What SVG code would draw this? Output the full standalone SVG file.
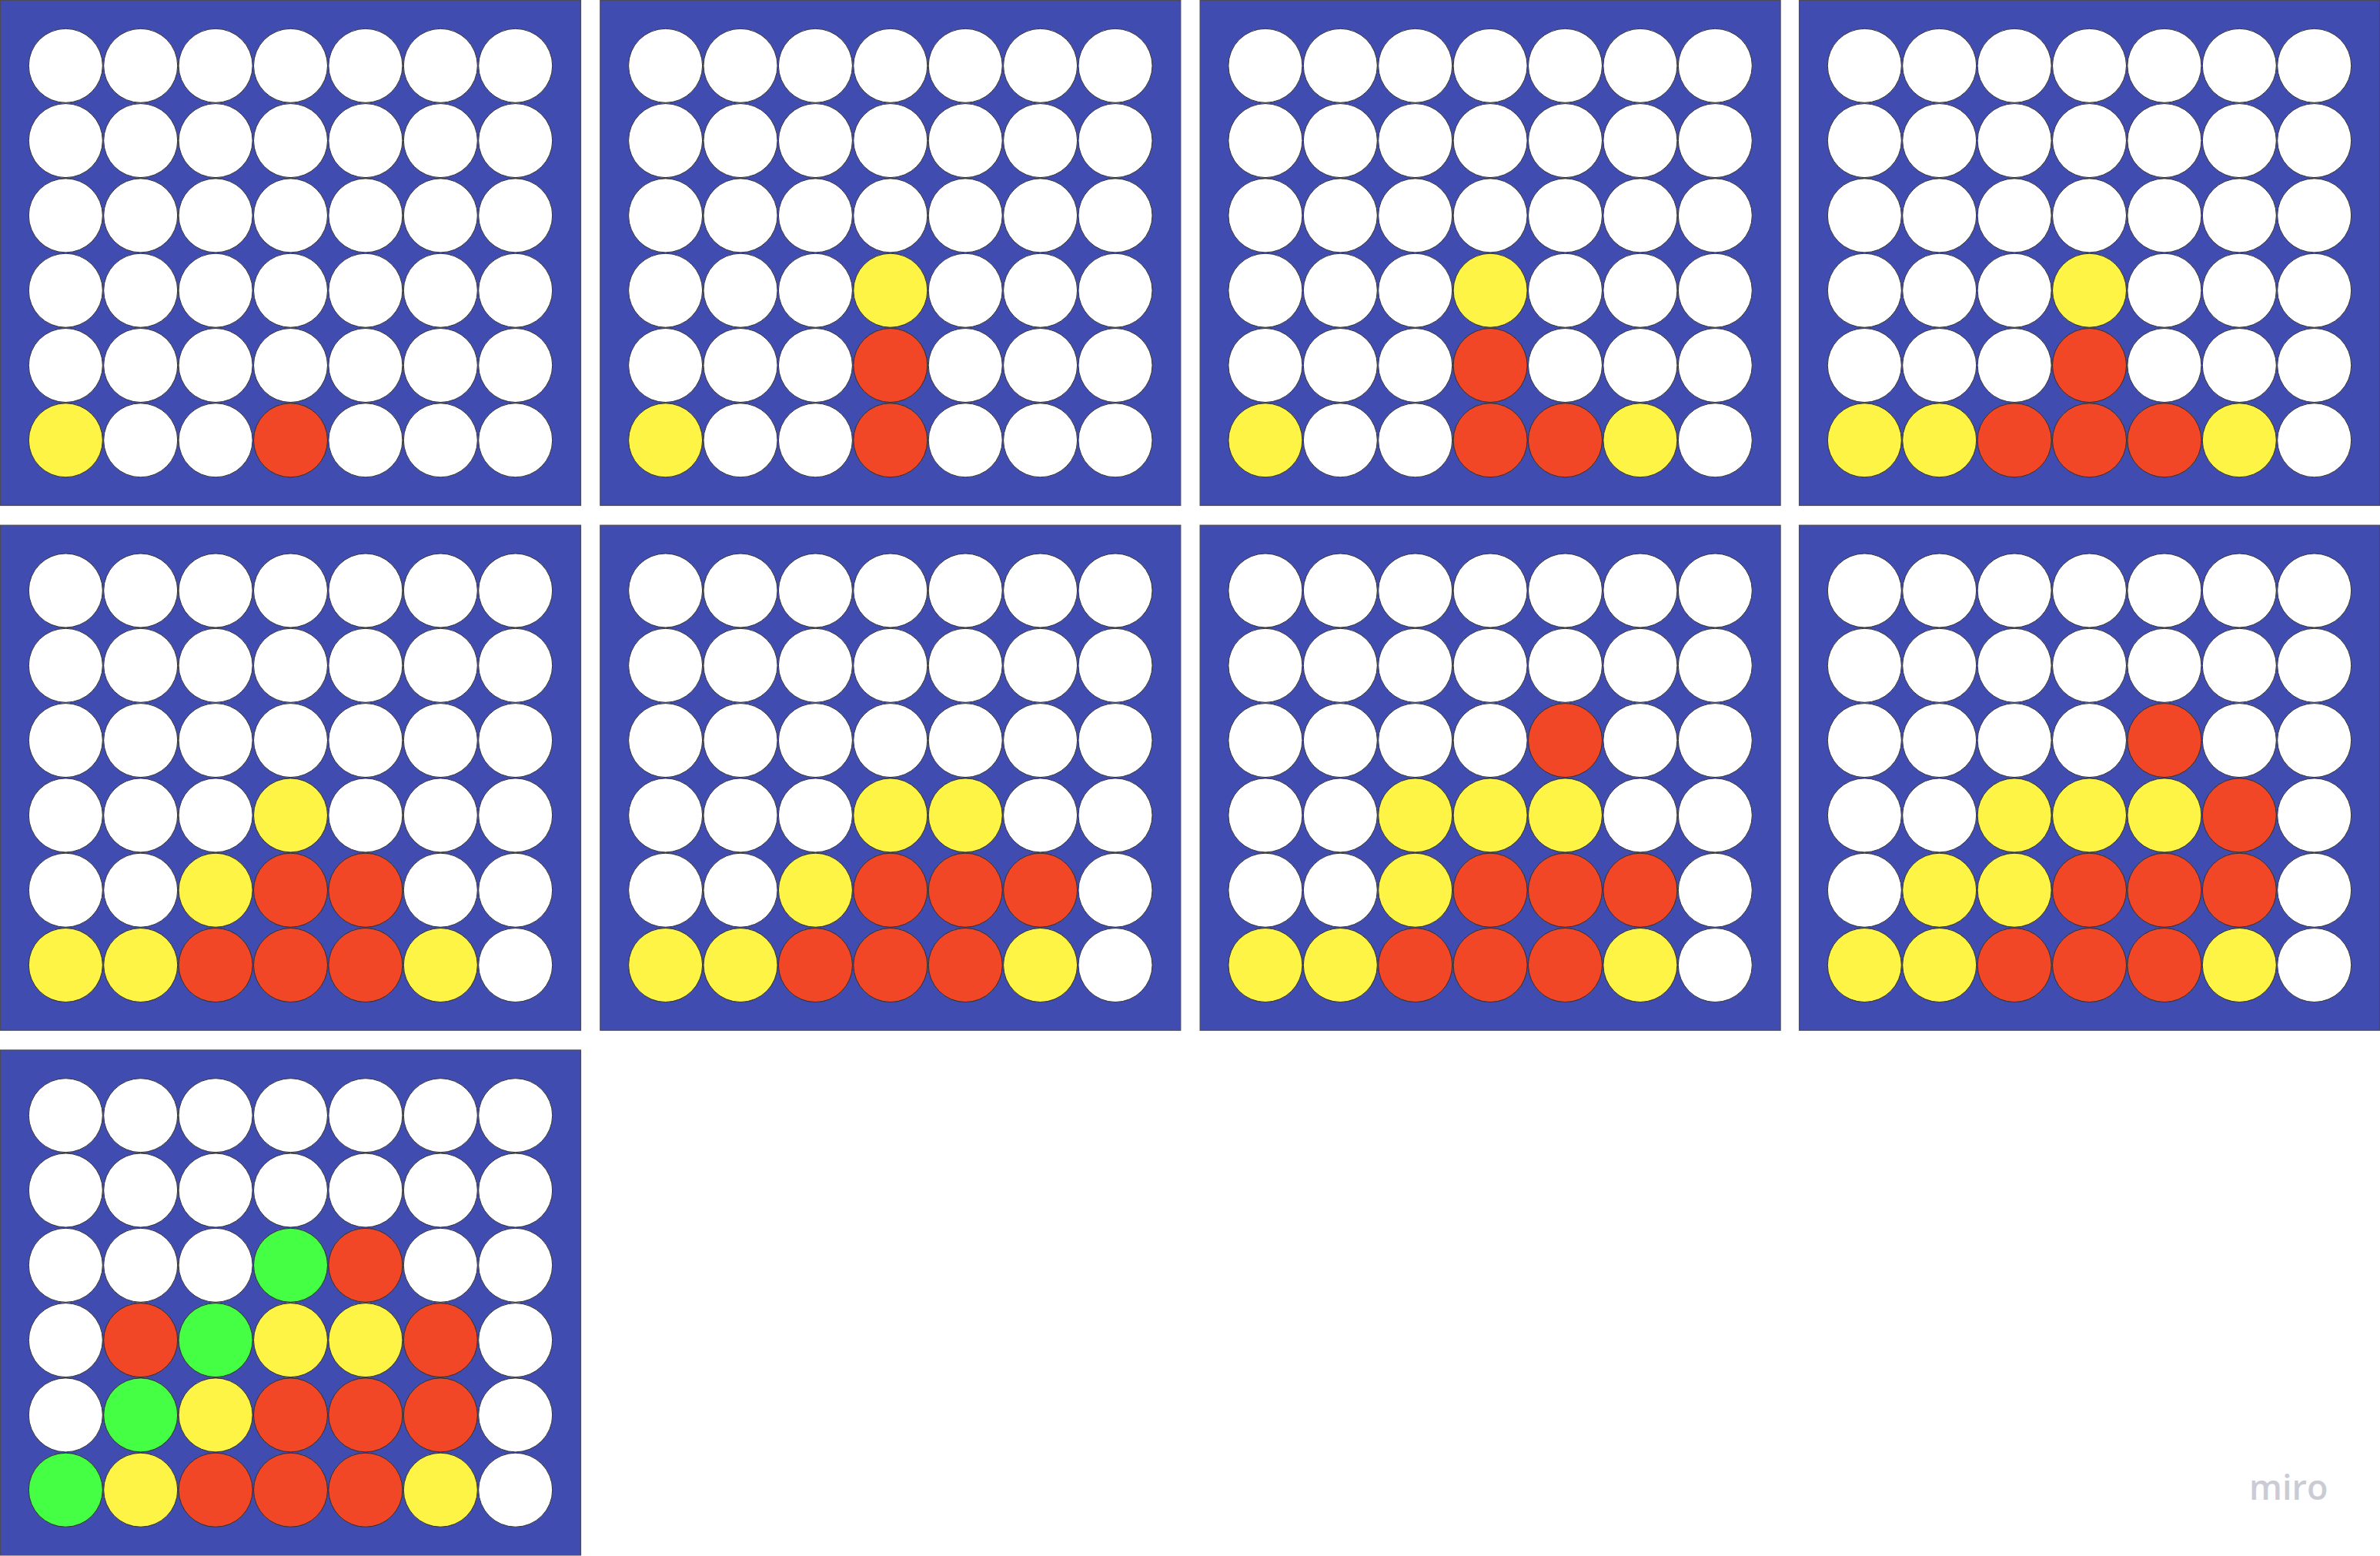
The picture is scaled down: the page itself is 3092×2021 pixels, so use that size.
<svg xmlns="http://www.w3.org/2000/svg" xmlns:xlink="http://www.w3.org/1999/xlink" width="3092" height="2021" viewBox="0 0 3092 2021">
<style>
.bd{fill:#404CB0;stroke:#4a4a5a;stroke-width:1.2}
circle{stroke:#333;stroke-width:1}
.w{fill:#ffffff}
.y{fill:#FEF445}
.r{fill:#F24726}
.g{fill:#44FF44}
.logo{font-family:"Open Sans","Noto Sans",sans-serif;font-weight:600;font-size:45px;fill:#CBCBD6}
</style>
<defs>
<g id="empty">
<rect class="bd" x="0.5" y="0.5" width="754" height="656"/>
<g class="w">
<circle cx="85.3" cy="85.3" r="48"/><circle cx="182.7" cy="85.3" r="48"/><circle cx="280.1" cy="85.3" r="48"/><circle cx="377.5" cy="85.3" r="48"/><circle cx="474.9" cy="85.3" r="48"/><circle cx="572.3" cy="85.3" r="48"/><circle cx="669.7" cy="85.3" r="48"/>
<circle cx="85.3" cy="182.6" r="48"/><circle cx="182.7" cy="182.6" r="48"/><circle cx="280.1" cy="182.6" r="48"/><circle cx="377.5" cy="182.6" r="48"/><circle cx="474.9" cy="182.6" r="48"/><circle cx="572.3" cy="182.6" r="48"/><circle cx="669.7" cy="182.6" r="48"/>
<circle cx="85.3" cy="279.9" r="48"/><circle cx="182.7" cy="279.9" r="48"/><circle cx="280.1" cy="279.9" r="48"/><circle cx="377.5" cy="279.9" r="48"/><circle cx="474.9" cy="279.9" r="48"/><circle cx="572.3" cy="279.9" r="48"/><circle cx="669.7" cy="279.9" r="48"/>
<circle cx="85.3" cy="377.2" r="48"/><circle cx="182.7" cy="377.2" r="48"/><circle cx="280.1" cy="377.2" r="48"/><circle cx="377.5" cy="377.2" r="48"/><circle cx="474.9" cy="377.2" r="48"/><circle cx="572.3" cy="377.2" r="48"/><circle cx="669.7" cy="377.2" r="48"/>
<circle cx="85.3" cy="474.5" r="48"/><circle cx="182.7" cy="474.5" r="48"/><circle cx="280.1" cy="474.5" r="48"/><circle cx="377.5" cy="474.5" r="48"/><circle cx="474.9" cy="474.5" r="48"/><circle cx="572.3" cy="474.5" r="48"/><circle cx="669.7" cy="474.5" r="48"/>
<circle cx="85.3" cy="571.8" r="48"/><circle cx="182.7" cy="571.8" r="48"/><circle cx="280.1" cy="571.8" r="48"/><circle cx="377.5" cy="571.8" r="48"/><circle cx="474.9" cy="571.8" r="48"/><circle cx="572.3" cy="571.8" r="48"/><circle cx="669.7" cy="571.8" r="48"/>
</g>
</g>
</defs>
<rect width="3092" height="2021" fill="#ffffff"/>
<g id="connectors"/>

<g id="board1" transform="translate(0,0)">
<use xlink:href="#empty" href="#empty"/>
<circle class="y" cx="85.3" cy="571.8" r="48"/>
<circle class="r" cx="377.5" cy="571.8" r="48"/>
</g>

<g id="board2" transform="translate(779.3,0)">
<use xlink:href="#empty" href="#empty"/>
<circle class="y" cx="377.5" cy="377.2" r="48"/>
<circle class="r" cx="377.5" cy="474.5" r="48"/>
<circle class="y" cx="85.3" cy="571.8" r="48"/>
<circle class="r" cx="377.5" cy="571.8" r="48"/>
</g>

<g id="board3" transform="translate(1558.6,0)">
<use xlink:href="#empty" href="#empty"/>
<circle class="y" cx="377.5" cy="377.2" r="48"/>
<circle class="r" cx="377.5" cy="474.5" r="48"/>
<circle class="y" cx="85.3" cy="571.8" r="48"/>
<circle class="r" cx="377.5" cy="571.8" r="48"/>
<circle class="r" cx="474.9" cy="571.8" r="48"/>
<circle class="y" cx="572.3" cy="571.8" r="48"/>
</g>

<g id="board4" transform="translate(2337,0)">
<use xlink:href="#empty" href="#empty"/>
<circle class="y" cx="377.5" cy="377.2" r="48"/>
<circle class="r" cx="377.5" cy="474.5" r="48"/>
<circle class="y" cx="85.3" cy="571.8" r="48"/>
<circle class="y" cx="182.7" cy="571.8" r="48"/>
<circle class="r" cx="280.1" cy="571.8" r="48"/>
<circle class="r" cx="377.5" cy="571.8" r="48"/>
<circle class="r" cx="474.9" cy="571.8" r="48"/>
<circle class="y" cx="572.3" cy="571.8" r="48"/>
</g>

<g id="board5" transform="translate(0,681.7)">
<use xlink:href="#empty" href="#empty"/>
<circle class="y" cx="377.5" cy="377.2" r="48"/>
<circle class="y" cx="280.1" cy="474.5" r="48"/>
<circle class="r" cx="377.5" cy="474.5" r="48"/>
<circle class="r" cx="474.9" cy="474.5" r="48"/>
<circle class="y" cx="85.3" cy="571.8" r="48"/>
<circle class="y" cx="182.7" cy="571.8" r="48"/>
<circle class="r" cx="280.1" cy="571.8" r="48"/>
<circle class="r" cx="377.5" cy="571.8" r="48"/>
<circle class="r" cx="474.9" cy="571.8" r="48"/>
<circle class="y" cx="572.3" cy="571.8" r="48"/>
</g>

<g id="board6" transform="translate(779.3,681.7)">
<use xlink:href="#empty" href="#empty"/>
<circle class="y" cx="377.5" cy="377.2" r="48"/>
<circle class="y" cx="474.9" cy="377.2" r="48"/>
<circle class="y" cx="280.1" cy="474.5" r="48"/>
<circle class="r" cx="377.5" cy="474.5" r="48"/>
<circle class="r" cx="474.9" cy="474.5" r="48"/>
<circle class="r" cx="572.3" cy="474.5" r="48"/>
<circle class="y" cx="85.3" cy="571.8" r="48"/>
<circle class="y" cx="182.7" cy="571.8" r="48"/>
<circle class="r" cx="280.1" cy="571.8" r="48"/>
<circle class="r" cx="377.5" cy="571.8" r="48"/>
<circle class="r" cx="474.9" cy="571.8" r="48"/>
<circle class="y" cx="572.3" cy="571.8" r="48"/>
</g>

<g id="board7" transform="translate(1558.6,681.7)">
<use xlink:href="#empty" href="#empty"/>
<circle class="r" cx="474.9" cy="279.9" r="48"/>
<circle class="y" cx="280.1" cy="377.2" r="48"/>
<circle class="y" cx="377.5" cy="377.2" r="48"/>
<circle class="y" cx="474.9" cy="377.2" r="48"/>
<circle class="y" cx="280.1" cy="474.5" r="48"/>
<circle class="r" cx="377.5" cy="474.5" r="48"/>
<circle class="r" cx="474.9" cy="474.5" r="48"/>
<circle class="r" cx="572.3" cy="474.5" r="48"/>
<circle class="y" cx="85.3" cy="571.8" r="48"/>
<circle class="y" cx="182.7" cy="571.8" r="48"/>
<circle class="r" cx="280.1" cy="571.8" r="48"/>
<circle class="r" cx="377.5" cy="571.8" r="48"/>
<circle class="r" cx="474.9" cy="571.8" r="48"/>
<circle class="y" cx="572.3" cy="571.8" r="48"/>
</g>

<g id="board8" transform="translate(2337,681.7)">
<use xlink:href="#empty" href="#empty"/>
<circle class="r" cx="474.9" cy="279.9" r="48"/>
<circle class="y" cx="280.1" cy="377.2" r="48"/>
<circle class="y" cx="377.5" cy="377.2" r="48"/>
<circle class="y" cx="474.9" cy="377.2" r="48"/>
<circle class="r" cx="572.3" cy="377.2" r="48"/>
<circle class="y" cx="182.7" cy="474.5" r="48"/>
<circle class="y" cx="280.1" cy="474.5" r="48"/>
<circle class="r" cx="377.5" cy="474.5" r="48"/>
<circle class="r" cx="474.9" cy="474.5" r="48"/>
<circle class="r" cx="572.3" cy="474.5" r="48"/>
<circle class="y" cx="85.3" cy="571.8" r="48"/>
<circle class="y" cx="182.7" cy="571.8" r="48"/>
<circle class="r" cx="280.1" cy="571.8" r="48"/>
<circle class="r" cx="377.5" cy="571.8" r="48"/>
<circle class="r" cx="474.9" cy="571.8" r="48"/>
<circle class="y" cx="572.3" cy="571.8" r="48"/>
</g>

<g id="board9" transform="translate(0,1363.4)">
<use xlink:href="#empty" href="#empty"/>
<circle class="g" cx="377.5" cy="279.9" r="48"/>
<circle class="r" cx="474.9" cy="279.9" r="48"/>
<circle class="r" cx="182.7" cy="377.2" r="48"/>
<circle class="g" cx="280.1" cy="377.2" r="48"/>
<circle class="y" cx="377.5" cy="377.2" r="48"/>
<circle class="y" cx="474.9" cy="377.2" r="48"/>
<circle class="r" cx="572.3" cy="377.2" r="48"/>
<circle class="g" cx="182.7" cy="474.5" r="48"/>
<circle class="y" cx="280.1" cy="474.5" r="48"/>
<circle class="r" cx="377.5" cy="474.5" r="48"/>
<circle class="r" cx="474.9" cy="474.5" r="48"/>
<circle class="r" cx="572.3" cy="474.5" r="48"/>
<circle class="g" cx="85.3" cy="571.8" r="48"/>
<circle class="y" cx="182.7" cy="571.8" r="48"/>
<circle class="r" cx="280.1" cy="571.8" r="48"/>
<circle class="r" cx="377.5" cy="571.8" r="48"/>
<circle class="r" cx="474.9" cy="571.8" r="48"/>
<circle class="y" cx="572.3" cy="571.8" r="48"/>
</g>

<text class="logo" x="2922" y="1948">miro</text>
</svg>
